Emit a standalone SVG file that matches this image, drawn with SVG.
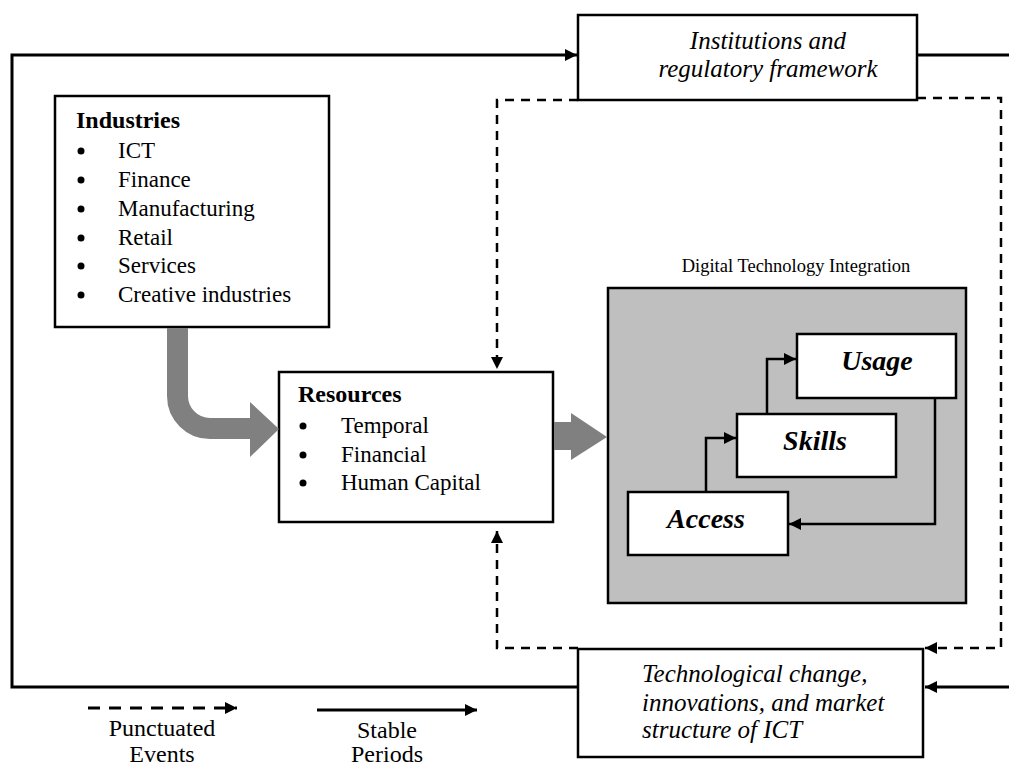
<svg xmlns="http://www.w3.org/2000/svg" width="1009" height="765" viewBox="0 0 1009 765">
<style>
.box{fill:#fff;stroke:#000;stroke-width:2.5}
.gbox{fill:#bfbfbf;stroke:#000;stroke-width:2.5}
.solid{fill:none;stroke:#000;stroke-width:3}
.thin{fill:none;stroke:#000;stroke-width:2.5}
.dash{fill:none;stroke:#000;stroke-width:2.5;stroke-dasharray:9 7}
.ldash{fill:none;stroke:#000;stroke-width:3;stroke-dasharray:12 9}
.t{font-family:"Liberation Serif","Times New Roman",serif;fill:#000}
.b{font-weight:bold;font-size:24px}
.r{font-size:23px}
.i{font-style:italic;font-size:25px}
.bi{font-style:italic;font-weight:bold;font-size:28px}
.g{fill:#808080}
</style>
<defs>
<marker id="ah" viewBox="0 0 12 12" refX="12" refY="6" markerWidth="12" markerHeight="12" markerUnits="userSpaceOnUse" orient="auto"><path d="M0,0 L12,6 L0,12 z" fill="#000"/></marker>
</defs>
<rect width="1009" height="765" fill="#fff"/>

<g id="institutions">
  <rect class="box" x="578" y="15" width="339" height="85"/>
  <text class="t i" x="768" y="49" text-anchor="middle">Institutions and</text>
  <text class="t i" x="768" y="77" text-anchor="middle">regulatory framework</text>
</g>

<g id="industries">
  <rect class="box" x="55" y="96" width="274" height="231"/>
  <text class="t b" x="76" y="128">Industries</text>
  <circle cx="81" cy="151" r="3.5"/><text class="t r" x="118" y="158">ICT</text>
  <circle cx="81" cy="180" r="3.5"/><text class="t r" x="118" y="187">Finance</text>
  <circle cx="81" cy="209" r="3.5"/><text class="t r" x="118" y="216">Manufacturing</text>
  <circle cx="81" cy="238" r="3.5"/><text class="t r" x="118" y="245">Retail</text>
  <circle cx="81" cy="266" r="3.5"/><text class="t r" x="118" y="273">Services</text>
  <circle cx="81" cy="295" r="3.5"/><text class="t r" x="118" y="302">Creative industries</text>
</g>

<g id="resources">
  <rect class="box" x="279" y="372" width="274" height="150"/>
  <text class="t b" x="298" y="402">Resources</text>
  <circle cx="303" cy="426" r="3.5"/><text class="t r" x="341" y="433">Temporal</text>
  <circle cx="303" cy="455" r="3.5"/><text class="t r" x="341" y="462">Financial</text>
  <circle cx="303" cy="483" r="3.5"/><text class="t r" x="341" y="490">Human Capital</text>
</g>

<g id="digital-integration">
  <text class="t" x="796" y="272" text-anchor="middle" font-size="18.5">Digital Technology Integration</text>
  <rect class="gbox" x="608" y="288" width="358" height="315"/>
</g>

<g id="usage">
  <rect class="box" x="797" y="334" width="159" height="64"/>
  <text class="t bi" x="877" y="370" text-anchor="middle">Usage</text>
</g>

<g id="skills">
  <rect class="box" x="737" y="414" width="159" height="63"/>
  <text class="t bi" x="815" y="450" text-anchor="middle">Skills</text>
</g>

<g id="access">
  <rect class="box" x="628" y="492" width="160" height="63"/>
  <text class="t bi" x="706" y="528" text-anchor="middle">Access</text>
</g>

<g id="technology">
  <rect class="box" x="578" y="649" width="345" height="108"/>
  <text class="t i" x="642" y="682">Technological change,</text>
  <text class="t i" x="642" y="711">innovations, and market</text>
  <text class="t i" x="642" y="738">structure of ICT</text>
</g>

<g id="legend">
  <text class="t" x="162" y="736" text-anchor="middle" font-size="24">Punctuated</text>
  <text class="t" x="162" y="762" text-anchor="middle" font-size="24">Events</text>
  <text class="t" x="387" y="738" text-anchor="middle" font-size="24">Stable</text>
  <text class="t" x="387" y="762" text-anchor="middle" font-size="24">Periods</text>
</g>

<g id="connectors">
  <!-- stable loop -->
  <path class="solid" d="M578,687 H12 V55 H577" marker-end="url(#ah)"/>
  <path class="solid" d="M917,55 H1009"/>
  <path class="solid" d="M1009,687 H925" marker-end="url(#ah)"/>
  <!-- punctuated dashed -->
  <path class="dash" d="M578,100 H497 V369" marker-end="url(#ah)"/>
  <path class="dash" d="M917,98 H1001 V648 H925" marker-end="url(#ah)"/>
  <path class="dash" d="M578,648 H497 V531" marker-end="url(#ah)"/>
  <!-- inner cycle -->
  <path class="thin" d="M706,492 V438 H736" marker-end="url(#ah)"/>
  <path class="thin" d="M767,414 V359 H796" marker-end="url(#ah)"/>
  <path class="thin" d="M935,398 V524 H789" marker-end="url(#ah)"/>
  <!-- gray block arrows -->
  <path d="M177.5,328 V396 A32.5,32.5 0 0 0 210,428.5 H252" fill="none" stroke="#808080" stroke-width="21"/>
  <polygon class="g" points="250,402 279,429 250,457"/>
  <path d="M554,436 H573" fill="none" stroke="#808080" stroke-width="28"/>
  <polygon class="g" points="571,413 607,437 571,460"/>
  <!-- legend -->
  <path class="ldash" d="M88,708 H237" marker-end="url(#ah)"/>
  <path class="solid" d="M317,710 H477" marker-end="url(#ah)"/>
</g>
</svg>
